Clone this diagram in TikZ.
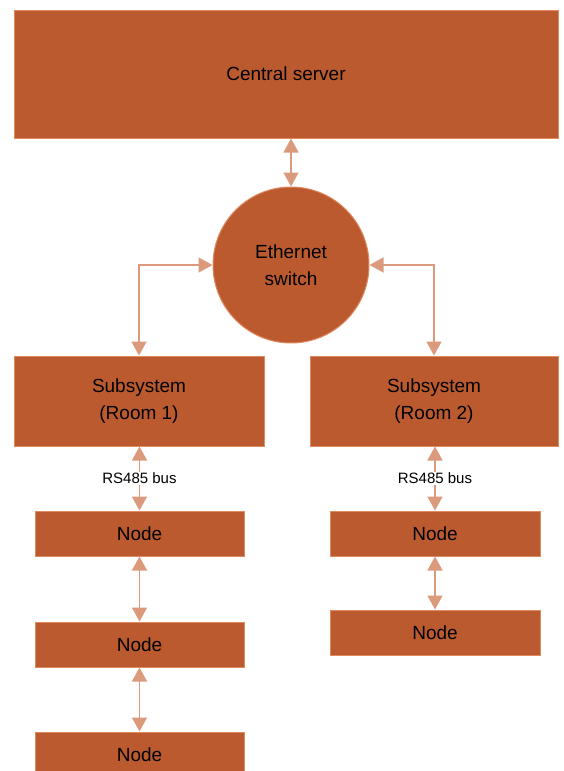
\documentclass[tikz,border=0pt]{standalone}
\usepackage{fontspec}
\setmainfont{Liberation Sans}
\usetikzlibrary{arrows.meta}
\definecolor{boxfill}{HTML}{BB5A2F}
\definecolor{boxline}{HTML}{E08A60}
\definecolor{arrowcol}{HTML}{DC9A7C}

\begin{document}
\begin{tikzpicture}[x=1pt,y=-1pt]
                        \tikzstyle{unit}=[draw=boxline, fill=boxfill, line width=1pt, inner sep=0pt, font=\fontsize{19}{26.5}\selectfont, align=center]
                        \tikzstyle{link}=[draw=arrowcol, line width=1.5pt, {Triangle[width=15pt,length=14pt]}-{Triangle[width=15pt,length=14pt]}]
                        \useasboundingbox (0,0) rectangle (563,771);
                        % top level
                        \node[unit, minimum width=544pt, minimum height=128pt] (server) at (286,74) {Central server};
                        \node[unit, circle, minimum size=156pt] (switch) at (291,265) {Ethernet\\switch};
                        % subsystems
                        \node[unit, minimum width=250pt, minimum height=90pt] (room1) at (139,401) {Subsystem\\(Room 1)};
                        \node[unit, minimum width=248pt, minimum height=90pt] (room2) at (434,401) {Subsystem\\(Room 2)};
                        % nodes on the buses
                        \node[unit, minimum width=209pt, minimum height=45pt] (nodeA) at (139.5,533.5) {Node};
                        \node[unit, minimum width=209pt, minimum height=45pt] (nodeB) at (139.5,644.5) {Node};
                        \node[unit, minimum width=209pt, minimum height=45pt] (nodeC) at (139.5,754.5) {Node};
                        \node[unit, minimum width=210pt, minimum height=45pt] (nodeD) at (435,533.5) {Node};
                        \node[unit, minimum width=210pt, minimum height=45pt] (nodeE) at (435,632.5) {Node};
                        % links
                        \draw[link] (server.south -| switch) -- (switch.north);
                        \draw[link] (switch.west) -| (room1.north);
                        \draw[link] (switch.east) -| (room2.north);
                        \draw[link] (room1.south -| nodeA) -- node[fill=white, inner sep=1pt, font=\fontsize{15}{18}\selectfont] {RS485 bus} (nodeA.north);
                        \draw[link] (room2.south -| nodeD) -- node[fill=white, inner sep=1pt, font=\fontsize{15}{18}\selectfont] {RS485 bus} (nodeD.north);
                        \draw[link] (nodeA) -- (nodeB);
                        \draw[link] (nodeB) -- (nodeC);
                        \draw[link] (nodeD) -- (nodeE);
                    \end{tikzpicture}
\end{document}
